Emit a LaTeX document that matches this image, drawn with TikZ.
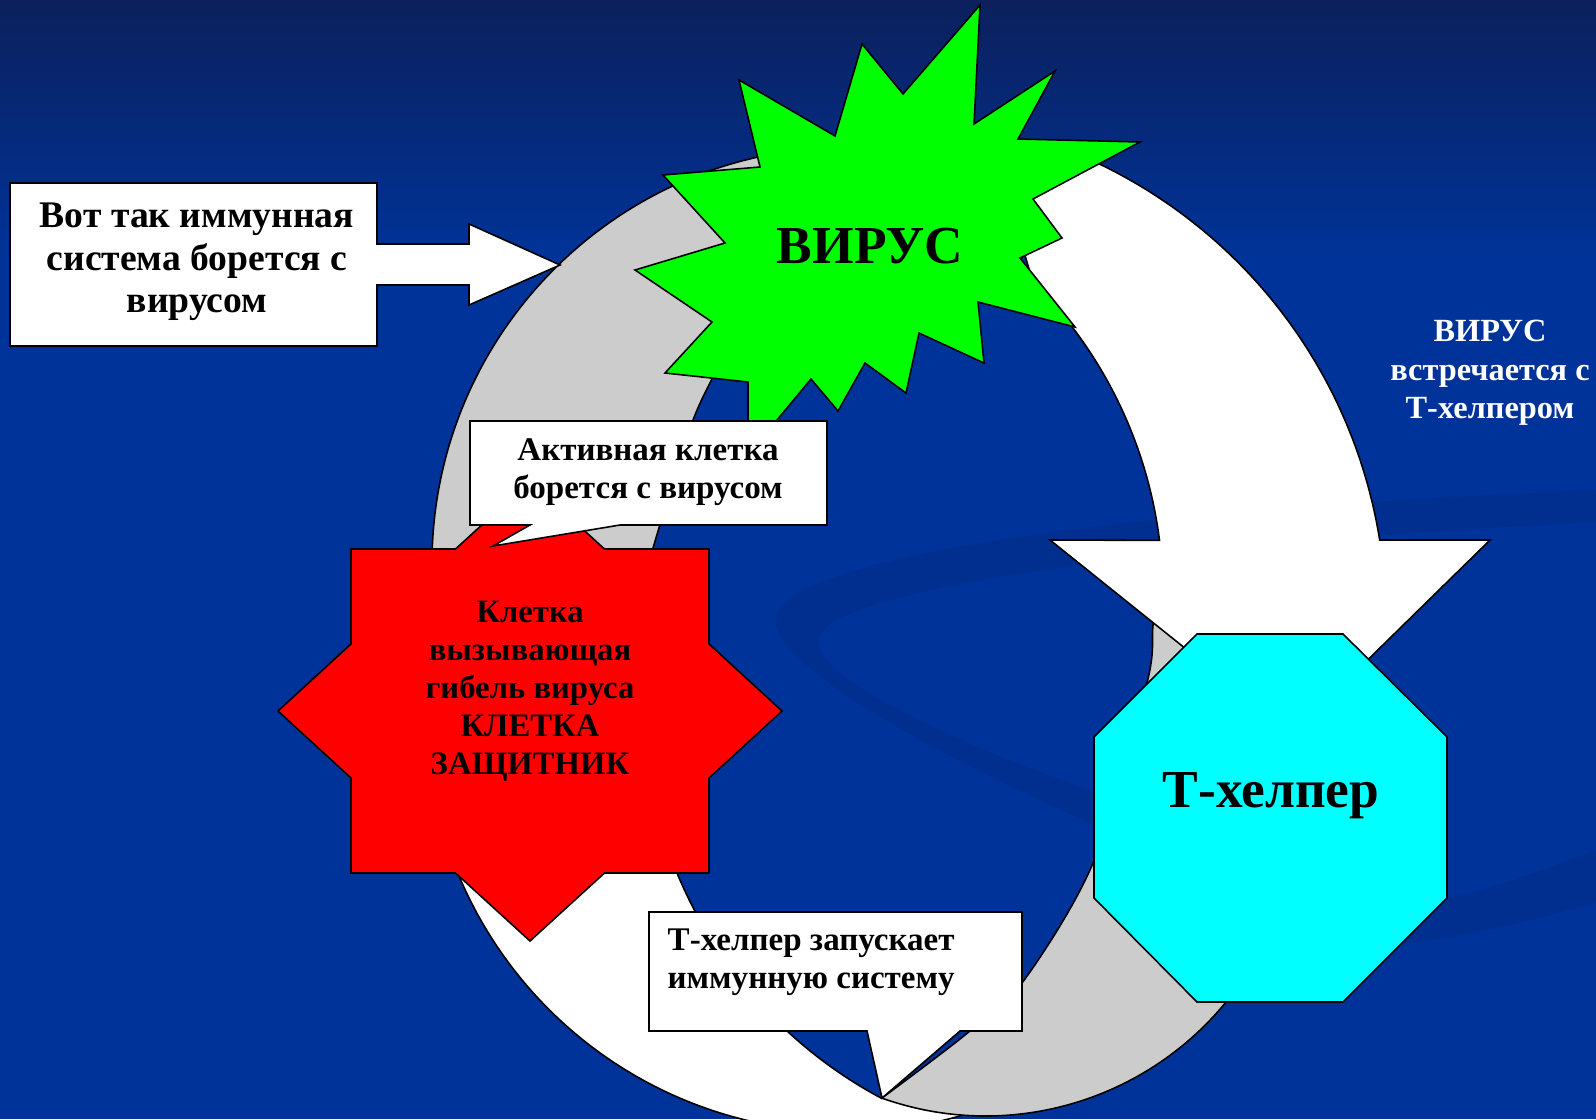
\documentclass[tikz,border=0pt]{standalone}
\usepackage{fontspec}
\setmainfont{Liberation Serif}
\definecolor{slideblue}{RGB}{0,51,153}
\definecolor{navytop}{RGB}{11,32,92}
\definecolor{swooshblue}{RGB}{0,47,143}
\definecolor{ringgray}{RGB}{204,204,204}
\definecolor{virusgreen}{RGB}{0,255,0}
\definecolor{cellred}{RGB}{255,0,0}
\definecolor{helpercyan}{RGB}{0,255,255}

\begin{document}
\begin{tikzpicture}[x=0.1mm, y=-0.1mm, line join=miter,
    outline/.style = {draw=black, line width=0.45pt},
    ribbon/.style = {outline, fill=white},
    backside/.style = {outline, fill=ringgray},
    lbl/.style = {inner sep=0pt, align=center},
    big/.style = {lbl, font=\bfseries\fontsize{15.2pt}{18pt}\selectfont},
    introtext/.style = {lbl, font=\bfseries\fontsize{10.7pt}{12.1pt}\selectfont},
    boxtext/.style = {lbl, font=\bfseries\fontsize{9.4pt}{10.8pt}\selectfont},
    celltext/.style = {lbl, font=\bfseries\fontsize{9.3pt}{10.8pt}\selectfont},
    sidetext/.style = {lbl, text=white, font=\bfseries\fontsize{9.2pt}{11pt}\selectfont}]
    % Disegna lo sfondo e le frecce ad anello

    \useasboundingbox (0,0) rectangle (1596,1119);
    \fill[top color=navytop, bottom color=slideblue] (0,0) rectangle (1596,260);
    \fill[slideblue] (0,259) rectangle (1596,1119);
    \fill[swooshblue] (1596,490) .. controls (1150,508) and (760,555) .. (776,625)
        .. controls (792,700) and (1150,860) .. (1400,944)
        .. controls (1480,935) and (1550,915) .. (1596,903) -- (1596,850)
        .. controls (1540,870) and (1480,895) .. (1440,898)
        .. controls (1250,850) and (840,720) .. (818,645)
        .. controls (805,590) and (1150,545) .. (1596,522) -- cycle;

    \draw[backside] (433,593.1) arc[start angle=176, end angle=265, radius=417]
        -- (790,240) -- plot[smooth] coordinates {(745,320) (713,377) (693,420) (672,485) (653,548)}
        -- (648,590) -- cycle;
    \draw[ribbon] (881.5,1098.3) arc[start angle=118.1, end angle=162, radius=452]
        -- (451.3,856.3) arc[start angle=160, end angle=60, radius=419] -- cycle;
    \draw[backside] plot[smooth] coordinates {(882,1098) (965,1035) (1022,983) (1093,863) (1147,683) (1153,625) (1160,575)}
        -- (1300,640) -- (1340,800) -- (1254.5,960.7) arc[start angle=30, end angle=109.5, radius=310.5] -- cycle;
    \draw[ribbon] (1000,172) -- (1053.1,144.5) arc[start angle=290, end angle=350.9, radius=506]
        -- (1490,540) -- (1292,734) -- (1050,540) -- (1159.5,540.4) arc[start angle=352.8, end angle=315, radius=444]
        -- cycle;

    \draw[outline, fill=cellred] (530,481) -- (604.5,549) -- (709,549) -- (709,644) -- (782,711) -- (709,778)
        -- (709,873) -- (604.5,873) -- (530,941) -- (455.5,873) -- (351,873) -- (351,778) -- (278,711)
        -- (351,644) -- (351,549) -- (455.5,549) -- cycle;
    \draw[outline, fill=virusgreen] (980,5) -- (974,124) -- (1055,71) -- (1018,139) -- (1140,142) -- (1033,199)
        -- (1062,238) -- (1020,258) -- (1075,327) -- (978,302) -- (984,363) -- (919,333) -- (906,393)
        -- (865,363) -- (838,411) -- (811,379) -- (748,455) -- (748,382) -- (665,373) -- (712,322)
        -- (635,270) -- (725,243) -- (663,175) -- (760,167) -- (739,80) -- (835,136) -- (862,44)
        -- (903,94) -- cycle;
    \draw[outline, fill=helpercyan] (1197,634) -- (1343,634) -- (1447,737) -- (1447,898) -- (1343,1002)
        -- (1197,1002) -- (1094,898) -- (1094,737) -- cycle;

    \draw[outline, fill=white] (10,183) -- (377,183) -- (377,244) -- (469,244) -- (469,224) -- (560,265)
        -- (469,305) -- (469,285) -- (377,285) -- (377,346) -- (10,346) -- cycle;
    \draw[outline, fill=white] (470,421) -- (827,421) -- (827,525) -- (620,525) -- (493,546) -- (530,525)
        -- (470,525) -- cycle;
    \draw[outline, fill=white] (649,912) -- (1022,912) -- (1022,1031) -- (960,1031) -- (882,1098)
        -- (867,1031) -- (649,1031) -- cycle;

    \node[introtext] (intro) at (197,262) {Вот так иммунная\\система борется с\\вирусом};
    \node[big, anchor=base] (virus) at (870,263) {ВИРУС};
    \node[boxtext] (active) at (648,472) {Активная клетка\\борется с вирусом};
    \node[celltext] (defender) at (530,691) {Клетка\\вызывающая\\гибель вируса\\КЛЕТКА\\ЗАЩИТНИК};
    \node[big, anchor=base] (helper) at (1271,807) {Т-хелпер};
    \node[boxtext, align=left, anchor=north west] (launch) at (667,928) {Т-хелпер запускает\\иммунную систему};
    \node[sidetext] (meets) at (1490,373) {ВИРУС\\встречается с\\Т-хелпером};

\end{tikzpicture}
\end{document}
